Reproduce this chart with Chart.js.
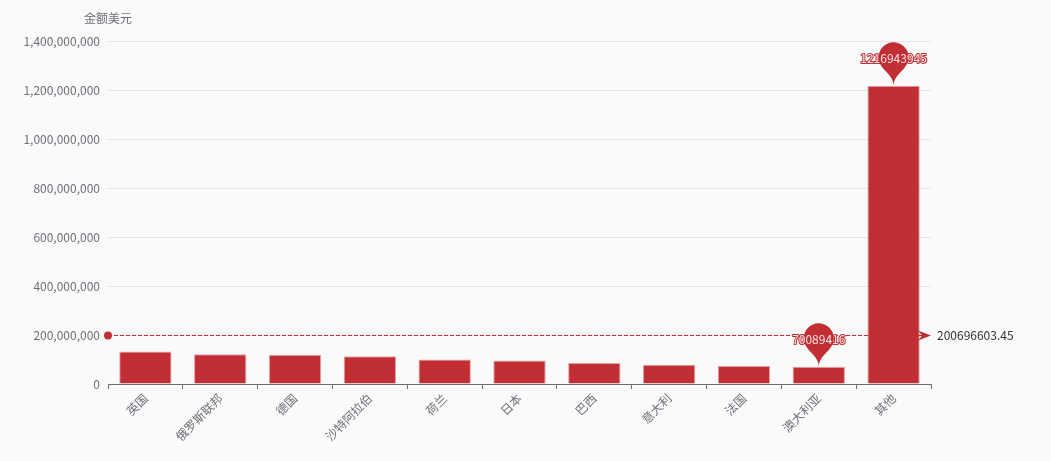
<!DOCTYPE html>
<html>
<head>
<meta charset="utf-8">
<script src="https://cdn.jsdelivr.net/npm/chart.js@4.4.0/dist/chart.umd.min.js"></script>
<style>
  html, body { margin: 0; padding: 0; background: #fafafa; }
  #wrap { width: 1051px; height: 461px; }
</style>
</head>
<body>
<div id="wrap"><canvas id="amountChart" width="1051" height="461"></canvas></div>
<script>
// data
const categories = ['英国', '俄罗斯联邦', '德国', '沙特阿拉伯', '荷兰', '日本', '巴西', '意大利', '法国', '澳大利亚', '其他'];
const amounts = [133021456, 121345210, 119032874, 113154621, 100248730, 96120385, 86037452, 78561290, 73107259, 70089416, 1216943945];
const yMax = 1400000000;
const yStep = 200000000;
const axisName = '金额美元';

const barColor = '#c12e34';
const fontFamily = '"Microsoft YaHei", "Noto Sans CJK SC", sans-serif';

// echarts-like pin shape, tip at (x, y)
const drawPin = (ctx, x, y, size) => {
    const w = size / 5 * 3;
    const h = Math.max(w, size);
    const r = w / 2;
    const dy = r * r / (h - r);
    const cy = y - h + r + dy;
    const angle = Math.asin(dy / r);
    const dx = Math.cos(angle) * r;
    const tanX = Math.sin(angle);
    const tanY = Math.cos(angle);
    const cpLen = r * 0.6;
    const cpLen2 = r * 0.7;
    ctx.beginPath();
    ctx.moveTo(x - dx, cy + dy);
    ctx.arc(x, cy, r, Math.PI - angle, Math.PI * 2 + angle);
    ctx.bezierCurveTo(x + dx - tanX * cpLen, cy + dy + tanY * cpLen, x, y - cpLen2, x, y);
    ctx.bezierCurveTo(x, y - cpLen2, x - dx + tanX * cpLen, cy + dy + tanY * cpLen, x - dx, cy + dy);
    ctx.closePath();
    ctx.fillStyle = barColor;
    ctx.fill();
};

const markPlugin = {
    id: 'marks',
    beforeDraw(chart) {
        const ctx = chart.ctx;
        ctx.save();
        ctx.fillStyle = '#fafafa';
        ctx.fillRect(0, 0, chart.width, chart.height);
        ctx.restore();
    },
    afterDatasetsDraw(chart) {
        const ctx = chart.ctx;
        const xs = chart.scales.x;
        const ys = chart.scales.y;
        const area = chart.chartArea;
        ctx.save();

        // axis name
        ctx.font = '12px ' + fontFamily;
        ctx.fillStyle = '#6e7079';
        ctx.textAlign = 'center';
        ctx.textBaseline = 'middle';
        ctx.fillText(axisName, area.left, 18);

        // average line
        const avg = amounts.reduce((a, b) => a + b, 0) / amounts.length;
        const ay = Math.round(ys.getPixelForValue(avg)) + 0.5;
        ctx.strokeStyle = barColor;
        ctx.lineWidth = 1;
        ctx.setLineDash([4, 2]);
        ctx.beginPath();
        ctx.moveTo(area.left + 6, ay);
        ctx.lineTo(area.right - 8, ay);
        ctx.stroke();
        ctx.setLineDash([]);
        ctx.fillStyle = barColor;
        ctx.beginPath();
        ctx.arc(area.left, ay, 4, 0, Math.PI * 2);
        ctx.fill();
        ctx.beginPath();
        ctx.moveTo(area.right - 13, ay - 5);
        ctx.lineTo(area.right, ay);
        ctx.lineTo(area.right - 13, ay + 5);
        ctx.lineTo(area.right - 9, ay);
        ctx.closePath();
        ctx.fill();
        ctx.fillStyle = '#333';
        ctx.textAlign = 'left';
        ctx.fillText(avg.toFixed(2), area.right + 6, ay);

        // max / min pins
        const maxIdx = amounts.indexOf(Math.max(...amounts));
        const minIdx = amounts.indexOf(Math.min(...amounts));
        [maxIdx, minIdx].forEach((i) => {
            const px = xs.getPixelForValue(i);
            const py = ys.getPixelForValue(amounts[i]);
            drawPin(ctx, px, py, 50);
            ctx.font = '12px ' + fontFamily;
            ctx.textAlign = 'center';
            ctx.textBaseline = 'middle';
            ctx.lineJoin = 'round';
            ctx.lineWidth = 2;
            ctx.strokeStyle = barColor;
            ctx.strokeText(String(amounts[i]), px, py - 27);
            ctx.fillStyle = '#f7e4e5';
            ctx.fillText(String(amounts[i]), px, py - 27);
        });
        ctx.restore();
    },
};

const renderChart = () => {
    const ctx = document.getElementById('amountChart').getContext('2d');
    new Chart(ctx, {
        type: 'bar',
        data: {
            labels: categories,
            datasets: [{
                label: axisName,
                data: amounts,
                backgroundColor: barColor,
                borderColor: '#e6a3a6',
                borderWidth: 1,
                barPercentage: 0.7,
                categoryPercentage: 1,
            }],
        },
        options: {
            responsive: false,
            animation: false,
            layout: { padding: { top: 41, right: 120, left: 0, bottom: 0 } },
            plugins: {
                legend: { display: false },
                tooltip: { enabled: false },
            },
            scales: {
                x: {
                    afterFit: (s) => { s.height = 77; },
                    border: { color: '#6e7079' },
                    grid: { offset: true, drawOnChartArea: false, drawTicks: true, tickLength: 5, color: '#6e7079' },
                    ticks: {
                        color: '#6e7079',
                        font: { size: 12, family: fontFamily },
                        minRotation: 45,
                        maxRotation: 45,
                        autoSkip: false,
                        padding: 2,
                    },
                },
                y: {
                    min: 0,
                    max: yMax,
                    afterFit: (s) => { s.width = 108; },
                    border: { display: false },
                    grid: { color: '#e0e6f1', drawTicks: false },
                    ticks: {
                        stepSize: yStep,
                        color: '#6e7079',
                        padding: 8,
                        font: { size: 12, family: fontFamily },
                        callback: (v) => v.toLocaleString('en-US'),
                    },
                },
            },
        },
        plugins: [markPlugin],
    });
};

window.addEventListener('load', renderChart);
</script>
</body>
</html>
